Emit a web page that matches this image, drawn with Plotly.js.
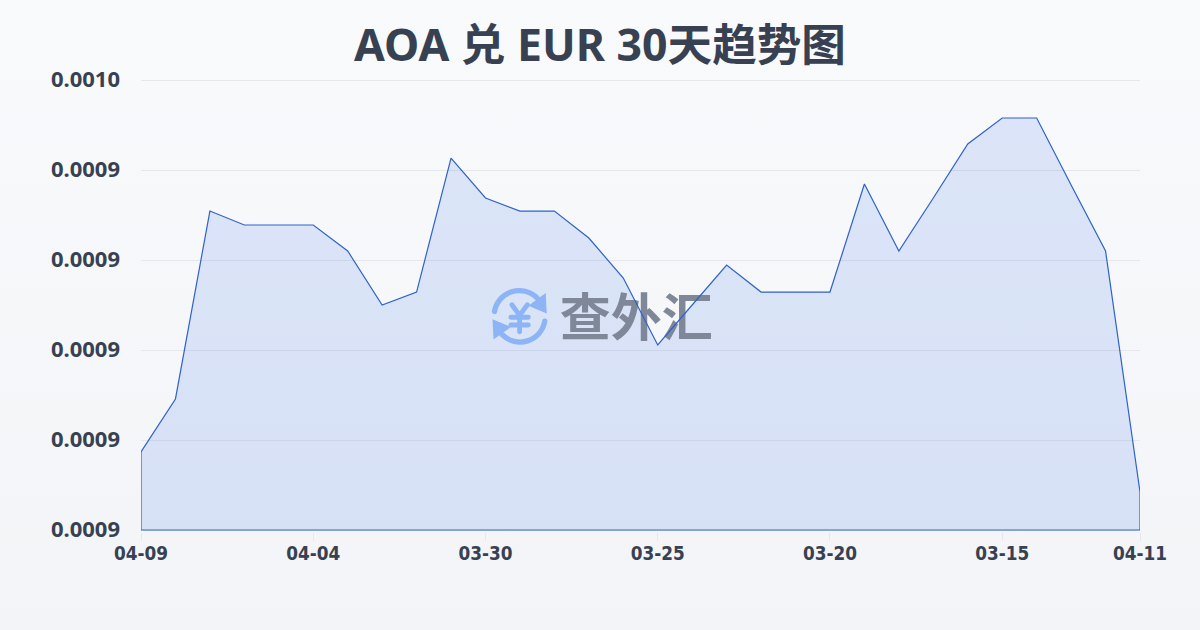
<!DOCTYPE html>
<html><head><meta charset="utf-8">
<script src="https://cdn.plot.ly/plotly-3.0.1.min.js"></script>
<style>
html,body{margin:0;padding:0;width:1200px;height:630px;overflow:hidden;background:linear-gradient(180deg,#f9fafc 0%,#f2f4f7 100%);}
#c{width:1200px;height:630px;}
</style></head><body><div id="c"></div>
<script>
const categories=['04-09','04-08','04-07','04-06','04-05','04-04','04-03','04-02','04-01','03-31','03-30','03-29','03-28','03-27','03-26','03-25','03-24','03-23','03-22','03-21','03-20','03-19','03-18','03-17','03-16','03-15','03-14','03-13','03-12','04-11'];
const rates=[0.00090867,0.00091456,0.00093544,0.00093389,0.00093389,0.00093389,0.00093100,0.00092500,0.00092644,0.00094133,0.00093689,0.00093544,0.00093544,0.00093244,0.00092800,0.00092056,0.00092500,0.00092944,0.00092644,0.00092644,0.00092644,0.00093844,0.00093100,0.00093689,0.00094289,0.00094578,0.00094578,0.00093833,0.00093100,0.00090422];
const xTickIndex=[0,5,10,15,20,25,29];
const yTickValues=[0.00090,0.00091,0.00092,0.00093,0.00094,0.00095];
const yTickLabels=['0.0009','0.0009','0.0009','0.0009','0.0009','0.0010'];
const yBase=0.00090, yTop=0.00095, yPad=2.22e-7;
const titleText='AOA 兑 EUR 30天趋势图';
const watermark='查外汇';
const idx=categories.map((_,i)=>i);
const last=idx.length-1;
const titleFont='"Noto Sans","Noto Sans CJK SC",sans-serif';
const yTickFont='"Noto Sans",sans-serif';
const xTickFont='"DejaVu Sans Condensed",sans-serif';
const logo='<svg xmlns="http://www.w3.org/2000/svg" width="64" height="64" viewBox="0 0 64 64"><g fill="none" stroke="#8db4f5" stroke-width="5.5" stroke-linecap="round" stroke-linejoin="round"><path d="M6 27 A26 26 0 0 1 50 13"/><path d="M58 37 A26 26 0 0 1 14 51"/><path d="M24 20 L32 31 L40 20 M32 31 V48 M23 33 H41 M23 41 H41" stroke-width="5"/></g><path d="M59 8 L60 29 L41 21 Z" fill="#8db4f5"/><path d="M5 56 L4 35 L23 43 Z" fill="#8db4f5"/></svg>';
const data=[
 {x:idx.concat([last,0]),y:rates.concat([yBase,yBase]),type:'scatter',mode:'none',fill:'toself',fillcolor:'rgba(37,99,235,0.135)',hoverinfo:'skip',showlegend:false},
 {x:[14.38],y:[0.000923],type:'scatter',mode:'text',text:[watermark],textposition:'middle center',textfont:{family:'"Noto Sans CJK SC",sans-serif',size:51,color:'#7f8899',weight:700},hoverinfo:'skip',showlegend:false},
 {x:[0,0,last,last],y:[rates[0],yBase,yBase,rates[last]],type:'scatter',mode:'lines',cliponaxis:false,line:{color:'#2f62c8',width:1.2},hoverinfo:'skip',showlegend:false},
 {x:idx,y:rates,type:'scatter',mode:'lines',cliponaxis:false,line:{color:'#2f62c8',width:1.2},hoverinfo:'skip',showlegend:false}
];
const layout={
 width:1200,height:630,paper_bgcolor:'rgba(0,0,0,0)',plot_bgcolor:'rgba(0,0,0,0)',
 margin:{l:140.5,r:59.5,t:78,b:97.5},showlegend:false,
 title:{text:titleText,x:0.5,xanchor:'center',y:0.928,yanchor:'middle',font:{family:titleFont,size:44.6,color:'#374151',weight:700}},
 xaxis:{type:'linear',range:[0,last],tickmode:'array',tickvals:xTickIndex,ticktext:xTickIndex.map(i=>categories[i]),showgrid:false,zeroline:false,showline:false,ticks:'outside',ticklen:8,tickcolor:'#e5e7eb',tickwidth:1,ticklabelstandoff:-4,tickfont:{family:xTickFont,size:18.8,color:'#374151',weight:700}},
 yaxis:{range:[yBase-yPad,yTop+yPad],tickmode:'array',tickvals:yTickValues,ticktext:yTickLabels,showgrid:true,gridcolor:'#e5e7eb',gridwidth:1,zeroline:false,showline:false,ticks:'',ticklabelstandoff:20,ticklabelshift:-1,tickfont:{family:yTickFont,size:22,color:'#374151',weight:700},automargin:false},
 images:[{source:'data:image/svg+xml;utf8,'+encodeURIComponent(logo),xref:'paper',yref:'paper',x:(488-140)/1000,y:(532-285)/454,sizex:0.062,sizey:0.138,xanchor:'left',yanchor:'top',layer:'above',sizing:'contain'}]
};
Plotly.newPlot('c',data,layout,{displayModeBar:false,staticPlot:true});
</script></body></html>
